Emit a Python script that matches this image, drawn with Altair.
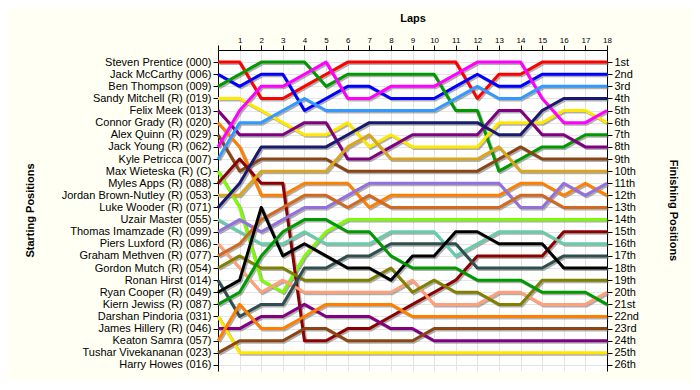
import json
import altair as alt
import pandas as pd

laps = list(range(0, 19))

drivers = [
    "Steven Prentice (000)", "Jack McCarthy (006)", "Ben Thompson (009)",
    "Sandy Mitchell (R) (019)", "Felix Meek (013)", "Connor Grady (R) (020)",
    "Alex Quinn (R) (029)", "Jack Young  (R) (062)", "Kyle Petricca (007)",
    "Max Wieteska (R) (C)", "Myles Apps  (R) (088)", "Jordan Brown-Nutley (R) (053)",
    "Luke Wooder (R) (071)", "Uzair Master (055)", "Thomas Imamzade  (R) (099)",
    "Piers Luxford  (R) (086)", "Graham Methven  (R) (077)", "Gordon Mutch (R) (054)",
    "Ronan Hirst (014)", "Ryan Cooper (R) (049)", "Kiern Jewiss  (R) (087)",
    "Darshan Pindoria (031)", "James Hillery (R) (046)", "Keaton Samra (057)",
    "Tushar Vivekananan (023)", "Harry Howes (016)",
]

colors = [
    "#ff0000", "#0000ff", "#009900", "#ffe800", "#800080", "#ff8000",
    "#8b4513", "#ff00ff", "#3399ff", "#7cfc00", "#8b0000", "#daa520",
    "#191970", "#66cdaa", "#9370db", "#ffa07a", "#d2691e", "#808000",
    "#2f4f4f", "#000000", "#009900", "#ffe800", "#800080", "#ff8000",
    "#8b4513", "#999999",
]

finish_labels = ["1st", "2nd", "3rd"] + [f"{i}th" for i in range(4, 21)] + \
    ["21st", "22nd", "23rd", "24th", "25th", "26th"]

# positions per lap (lap 0 = grid)
steven_prentice = [1, 1, 4, 4, 3, 2, 1, 1, 1, 1, 1, 1, 4, 2, 2, 1, 1, 1, 1]
jack_mccarthy = [2, 3, 2, 2, 5, 4, 3, 3, 4, 4, 4, 3, 2, 3, 3, 2, 2, 2, 2]
ben_thompson = [3, 2, 1, 1, 1, 3, 2, 2, 2, 2, 2, 5, 5, 10, 9, 8, 8, 7, 7]
sandy_mitchell = [4, 4, 5, 6, 7, 7, 6, 8, 7, 8, 8, 8, 8, 6, 6, 6, 5, 5, 6]
felix_meek = [5, 7, 7, 7, 6, 6, 9, 9, 8, 7, 7, 7, 7, 5, 5, 7, 7, 8, 8]
connor_grady = [6, 8, 12, 12, 11, 11, 11, 13, 12, 12, 12, 12, 12, 12, 11, 11, 12, 11, 12]
alex_quinn = [7, 10, 9, 9, 9, 9, 10, 10, 10, 10, 10, 10, 10, 9, 8, 9, 9, 9, 9]
jack_young = [8, 5, 3, 3, 2, 1, 4, 4, 3, 3, 3, 2, 1, 1, 1, 4, 6, 6, 5]
kyle_petricca = [9, 6, 6, 5, 4, 5, 5, 5, 5, 5, 5, 4, 3, 4, 4, 3, 3, 3, 3]
max_wieteska = [10, 13, 19, 20, 17, 15, 14, 14, 14, 14, 14, 14, 14, 14, 14, 14, 14, 14, 14]
myles_apps = [11, 9, 11, 11, 24, 24, 23, 23, 22, 21, 20, 19, 17, 17, 17, 17, 15, 15, 15]
jordan_brown_nutley = [12, 12, 10, 10, 10, 10, 8, 7, 9, 9, 9, 9, 9, 8, 10, 10, 10, 10, 10]
luke_wooder = [13, 11, 8, 8, 8, 8, 7, 6, 6, 6, 6, 6, 6, 7, 7, 5, 4, 4, 4]
uzair_master = [14, 15, 16, 16, 15, 16, 16, 16, 15, 15, 15, 17, 16, 15, 15, 15, 16, 16, 16]
thomas_imamzade = [15, 14, 15, 14, 13, 13, 12, 11, 11, 11, 11, 11, 11, 11, 13, 13, 11, 12, 11]
piers_luxford = [16, 18, 20, 19, 20, 20, 20, 20, 20, 19, 21, 21, 21, 20, 20, 21, 21, 21, 20]
graham_methven = [17, 16, 14, 13, 12, 12, 13, 12, 13, 13, 13, 13, 13, 13, 12, 12, 13, 13, 13]
gordon_mutch = [18, 17, 18, 18, 19, 19, 19, 19, 18, 20, 19, 20, 20, 21, 21, 19, 19, 19, 19]
ronan_hirst = [19, 22, 21, 21, 18, 18, 17, 17, 16, 16, 16, 16, 18, 18, 18, 18, 17, 17, 17]
ryan_cooper = [20, 19, 13, 17, 16, 17, 18, 18, 19, 17, 17, 15, 15, 16, 16, 16, 18, 18, 18]
kiern_jewiss = [21, 20, 17, 15, 14, 14, 15, 15, 17, 18, 18, 18, 19, 19, 19, 20, 20, 20, 21]
darshan_pindoria = [22, 25, 25, 25, 25, 25, 25, 25, 25, 25, 25, 25, 25, 25, 25, 25, 25, 25, 25]
james_hillery = [23, 23, 22, 22, 21, 22, 22, 22, 23, 23, 24, 24, 24, 24, 24, 24, 24, 24, 24]
keaton_samra = [24, 21, 23, 23, 22, 21, 21, 21, 21, 22, 22, 22, 22, 22, 22, 22, 22, 22, 22]
tushar_vivekananan = [25, 24, 24, 24, 23, 23, 24, 24, 24, 24, 23, 23, 23, 23, 23, 23, 23, 23, 23]

series = [
    steven_prentice, jack_mccarthy, ben_thompson, sandy_mitchell, felix_meek,
    connor_grady, alex_quinn, jack_young, kyle_petricca, max_wieteska,
    myles_apps, jordan_brown_nutley, luke_wooder, uzair_master, thomas_imamzade,
    piers_luxford, graham_methven, gordon_mutch, ronan_hirst, ryan_cooper,
    kiern_jewiss, darshan_pindoria, james_hillery, keaton_samra, tushar_vivekananan,
]

rows = []
for name, pos in zip(drivers, series):
    for lap, p in zip(laps, pos):
        rows.append({"driver": name, "lap": lap, "pos": p})
df = pd.DataFrame(rows)

FONT = "Liberation Sans"
positions = list(range(1, 27))
name_expr = json.dumps(drivers) + "[datum.value - 1]"
fin_expr = json.dumps(finish_labels) + "[datum.value - 1]"

yscale = alt.Scale(domain=[0, 26.5], reverse=True, nice=False, zero=False)
xscale = alt.Scale(domain=[0, 18], nice=False, zero=False)

x_axis = alt.Axis(
    orient="top", values=list(range(0, 19)),
    labelExpr="datum.value == 0 ? '' : datum.label", title="Laps", grid=True,
    gridColor="#e4e4e4", gridWidth=1, domainColor="#000000", tickColor="#000000",
    tickSize=5, labelFontSize=8, labelPadding=1, labelFont=FONT, labelColor="#000000",
    titleFont=FONT, titleFontSize=11, titleFontWeight="bold", titleColor="#000000",
    titleY=-32, titleBaseline="middle", labelFlush=False,
)
x_enc = alt.X("lap:Q", scale=xscale, axis=x_axis)

left_axis = alt.Axis(
    orient="left", values=positions, labelExpr=name_expr, title="Starting Positions",
    grid=True, gridColor="#e4e4e4", gridWidth=1, domainColor="#000000",
    tickColor="#000000", tickSize=5, labelFontSize=11, labelFont=FONT,
    labelColor="#000000", labelPadding=2, titleFont=FONT, titleFontSize=11,
    titleFontWeight="bold", titleColor="#000000", titleAngle=-90, titleX=-188,
    titleY=160, titleAlign="center", titleBaseline="middle", labelOverlap=False,
    labelFlush=False,
)
right_axis = alt.Axis(
    orient="right", values=positions, labelExpr=fin_expr, title="Finishing Positions",
    grid=False, domainColor="#000000", tickColor="#000000", tickSize=5,
    labelFontSize=11, labelFont=FONT, labelColor="#000000", labelPadding=2,
    titleFont=FONT, titleFontSize=11, titleFontWeight="bold", titleColor="#000000",
    titleAngle=90, titleX=65, titleY=160, titleAlign="center", titleBaseline="middle",
    labelOverlap=False, labelFlush=False,
)

base = alt.Chart(df)

shadow = base.mark_line(strokeWidth=3, color="#6e6e6e", opacity=0.55,
                        xOffset=1.5, yOffset=1.5, strokeJoin="round").encode(
    x=x_enc,
    y=alt.Y("pos:Q", scale=yscale, axis=None),
    detail="driver:N",
    order="lap:Q",
)

lines = base.mark_line(strokeWidth=3, strokeJoin="round").encode(
    x=x_enc,
    y=alt.Y("pos:Q", scale=yscale, axis=left_axis),
    color=alt.Color("driver:N", scale=alt.Scale(domain=drivers, range=colors), legend=None),
    order="lap:Q",
)

right = base.mark_point(opacity=0).encode(
    x=x_enc,
    y=alt.Y("pos:Q", scale=yscale, axis=right_axis),
)

chart = alt.layer(shadow, lines, right).resolve_axis(y="independent").properties(
    width=389, height=321,
    autosize=alt.AutoSizeParams(type="none"),
    padding={"left": 210, "top": 42, "right": 85, "bottom": 10},
    background="#fffff4",
).configure_view(stroke=None, fill="#ffffff")

chart.save("out.html", embed_options={"renderer": "svg", "actions": False})
